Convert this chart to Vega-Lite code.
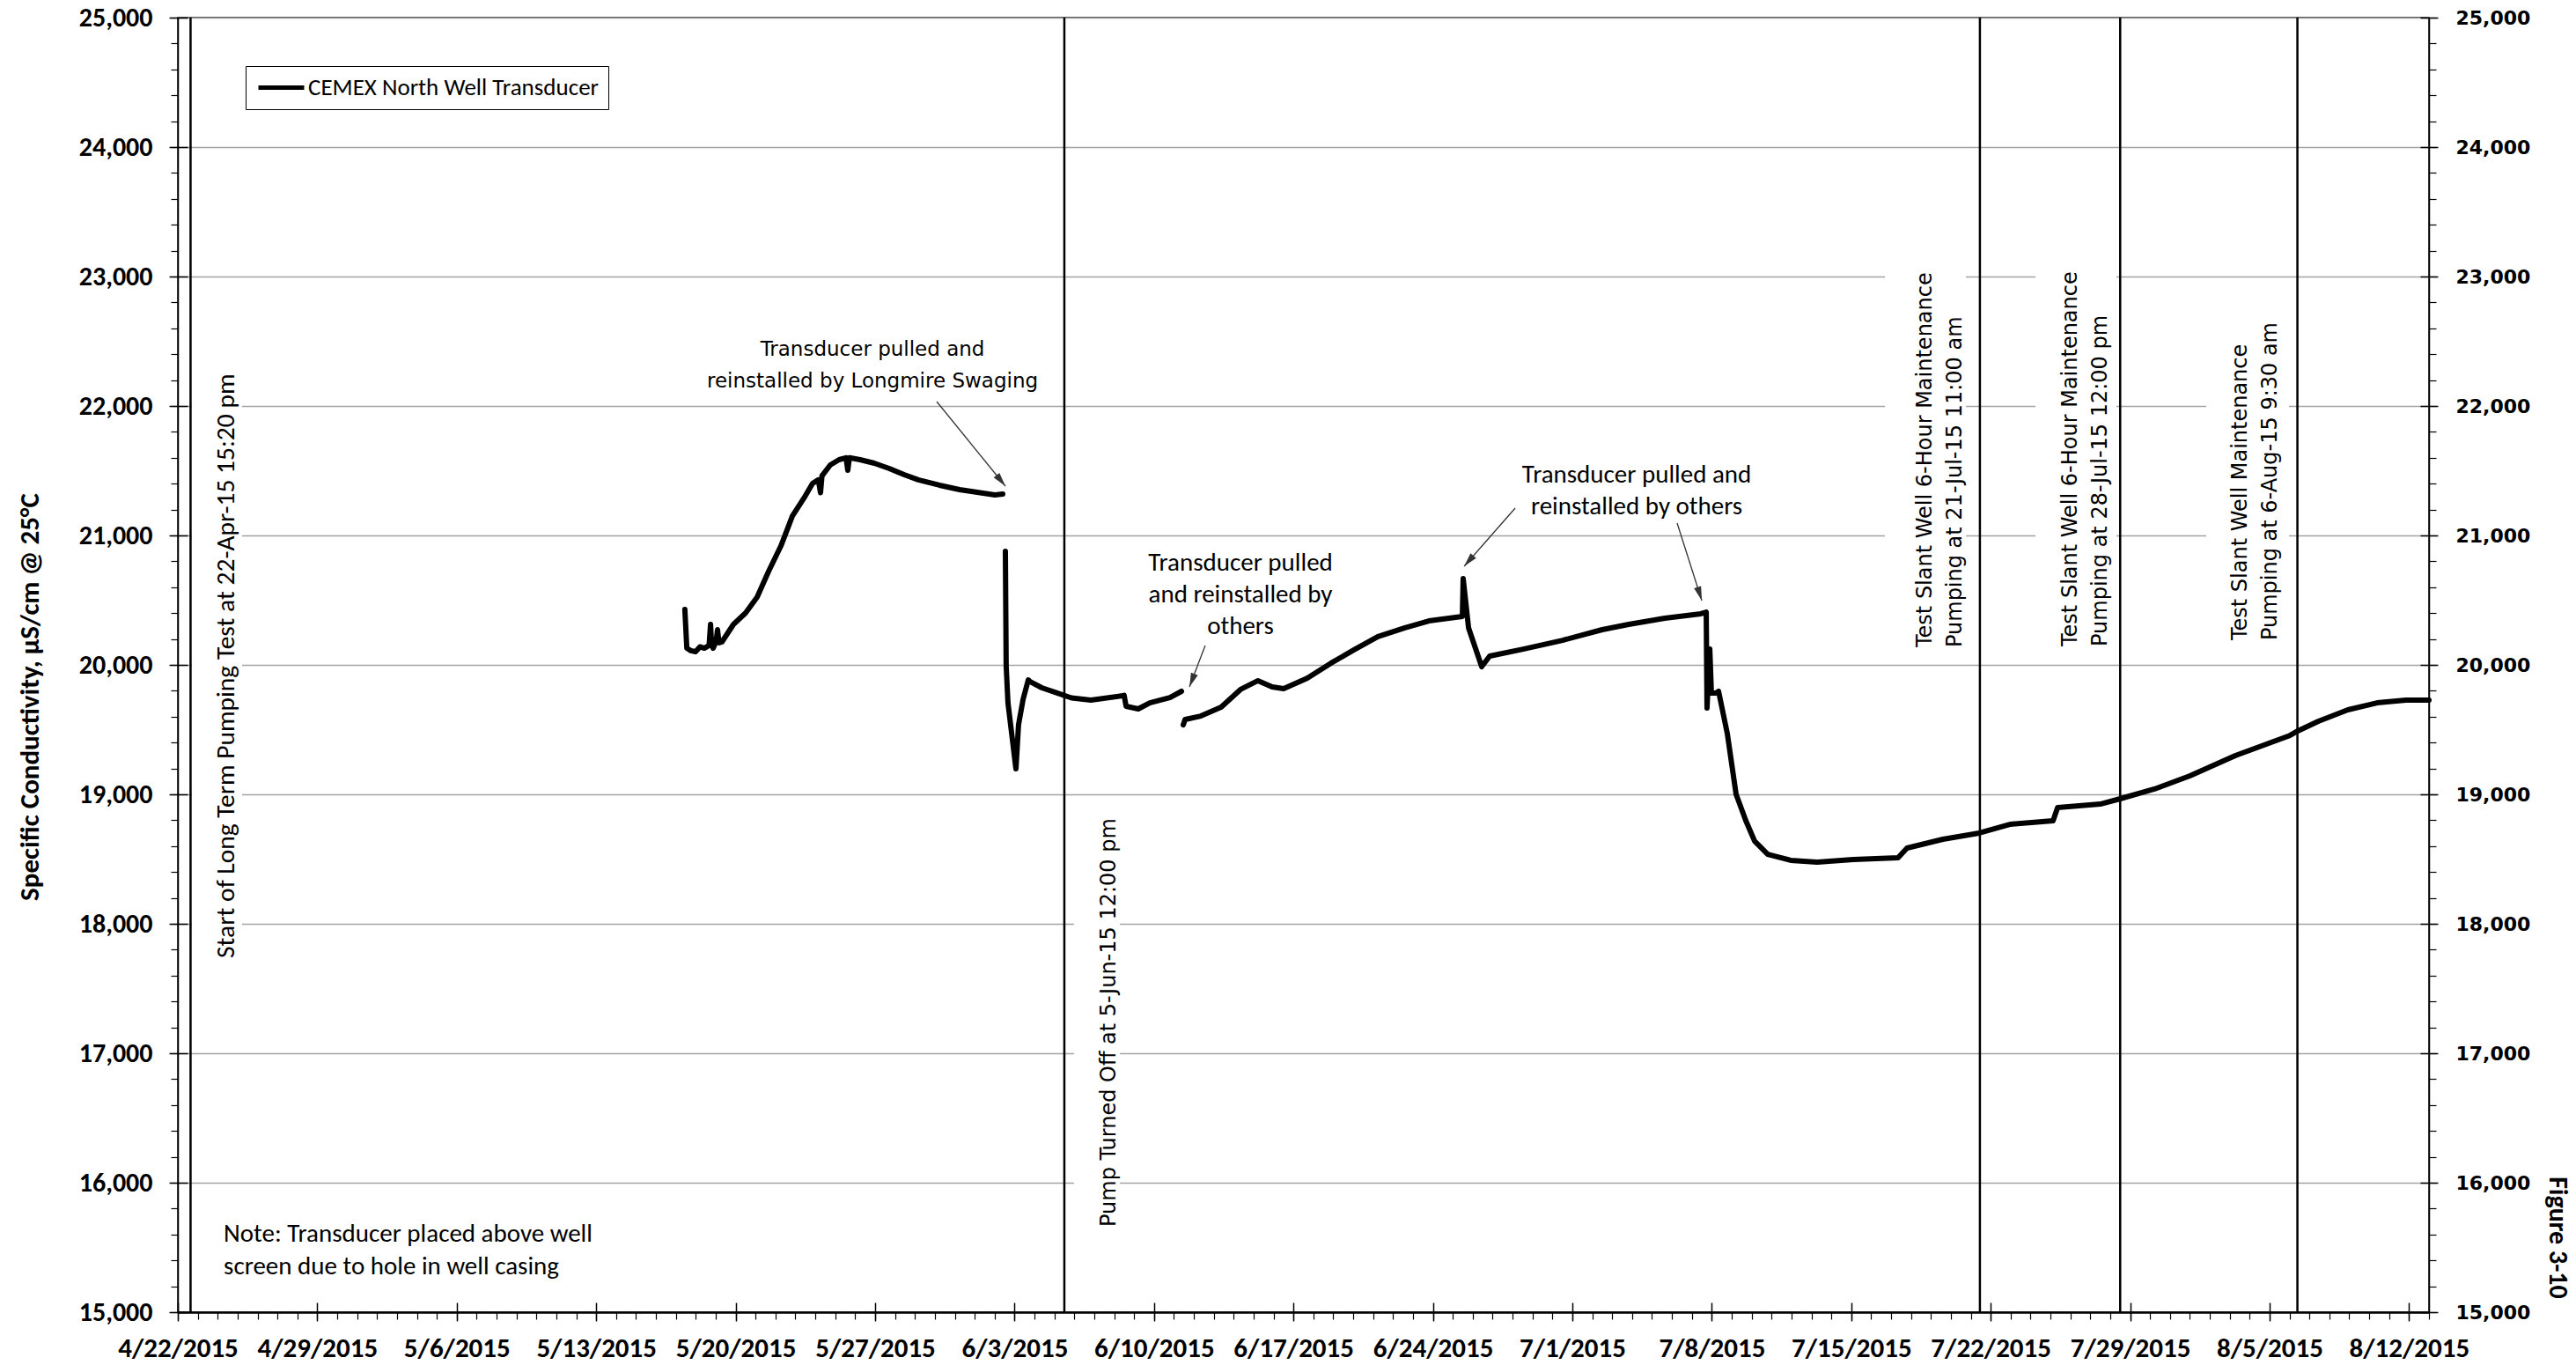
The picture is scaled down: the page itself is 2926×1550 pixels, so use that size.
{
  "$schema": "https://vega.github.io/schema/vega-lite/v6.json",
  "width": 2557,
  "height": 1470,
  "autosize": {"type": "none"},
  "padding": {"left": 202, "top": 20, "right": 167, "bottom": 60},
  "background": "white",
  "config": {
    "view": {"stroke": "black", "strokeWidth": 1.5},
    "axis": {"labelColor": "black", "titleColor": "black", "tickColor": "black", "domainColor": "black"}
  },
  "datasets": {
    "cond": [
      {"t": "2015-05-17T10:48", "v": 20429, "seg": 1, "series": "CEMEX North Well Transducer"},
      {"t": "2015-05-17T13:12", "v": 20129, "seg": 1, "series": "CEMEX North Well Transducer"},
      {"t": "2015-05-17T18:00", "v": 20110, "seg": 1, "series": "CEMEX North Well Transducer"},
      {"t": "2015-05-17T23:45", "v": 20102, "seg": 1, "series": "CEMEX North Well Transducer"},
      {"t": "2015-05-18T05:00", "v": 20140, "seg": 1, "series": "CEMEX North Well Transducer"},
      {"t": "2015-05-18T10:19", "v": 20129, "seg": 1, "series": "CEMEX North Well Transducer"},
      {"t": "2015-05-18T16:00", "v": 20150, "seg": 1, "series": "CEMEX North Well Transducer"},
      {"t": "2015-05-18T17:46", "v": 20313, "seg": 1, "series": "CEMEX North Well Transducer"},
      {"t": "2015-05-18T19:00", "v": 20160, "seg": 1, "series": "CEMEX North Well Transducer"},
      {"t": "2015-05-18T20:53", "v": 20129, "seg": 1, "series": "CEMEX North Well Transducer"},
      {"t": "2015-05-19T00:30", "v": 20180, "seg": 1, "series": "CEMEX North Well Transducer"},
      {"t": "2015-05-19T02:10", "v": 20272, "seg": 1, "series": "CEMEX North Well Transducer"},
      {"t": "2015-05-19T04:00", "v": 20170, "seg": 1, "series": "CEMEX North Well Transducer"},
      {"t": "2015-05-19T07:26", "v": 20177, "seg": 1, "series": "CEMEX North Well Transducer"},
      {"t": "2015-05-19T21:22", "v": 20313, "seg": 1, "series": "CEMEX North Well Transducer"},
      {"t": "2015-05-20T12:00", "v": 20401, "seg": 1, "series": "CEMEX North Well Transducer"},
      {"t": "2015-05-21T01:55", "v": 20524, "seg": 1, "series": "CEMEX North Well Transducer"},
      {"t": "2015-05-21T15:36", "v": 20721, "seg": 1, "series": "CEMEX North Well Transducer"},
      {"t": "2015-05-22T06:29", "v": 20918, "seg": 1, "series": "CEMEX North Well Transducer"},
      {"t": "2015-05-22T20:24", "v": 21150, "seg": 1, "series": "CEMEX North Well Transducer"},
      {"t": "2015-05-23T10:05", "v": 21286, "seg": 1, "series": "CEMEX North Well Transducer"},
      {"t": "2015-05-23T20:38", "v": 21401, "seg": 1, "series": "CEMEX North Well Transducer"},
      {"t": "2015-05-24T03:36", "v": 21430, "seg": 1, "series": "CEMEX North Well Transducer"},
      {"t": "2015-05-24T06:14", "v": 21330, "seg": 1, "series": "CEMEX North Well Transducer"},
      {"t": "2015-05-24T08:00", "v": 21460, "seg": 1, "series": "CEMEX North Well Transducer"},
      {"t": "2015-05-24T18:00", "v": 21544, "seg": 1, "series": "CEMEX North Well Transducer"},
      {"t": "2015-05-25T04:34", "v": 21585, "seg": 1, "series": "CEMEX North Well Transducer"},
      {"t": "2015-05-25T13:00", "v": 21600, "seg": 1, "series": "CEMEX North Well Transducer"},
      {"t": "2015-05-25T15:07", "v": 21503, "seg": 1, "series": "CEMEX North Well Transducer"},
      {"t": "2015-05-25T17:00", "v": 21600, "seg": 1, "series": "CEMEX North Well Transducer"},
      {"t": "2015-05-26T06:00", "v": 21585, "seg": 1, "series": "CEMEX North Well Transducer"},
      {"t": "2015-05-26T23:02", "v": 21558, "seg": 1, "series": "CEMEX North Well Transducer"},
      {"t": "2015-05-27T17:02", "v": 21517, "seg": 1, "series": "CEMEX North Well Transducer"},
      {"t": "2015-05-28T11:02", "v": 21469, "seg": 1, "series": "CEMEX North Well Transducer"},
      {"t": "2015-05-29T04:05", "v": 21429, "seg": 1, "series": "CEMEX North Well Transducer"},
      {"t": "2015-05-30T05:31", "v": 21388, "seg": 1, "series": "CEMEX North Well Transducer"},
      {"t": "2015-05-31T05:46", "v": 21354, "seg": 1, "series": "CEMEX North Well Transducer"},
      {"t": "2015-06-01T03:07", "v": 21333, "seg": 1, "series": "CEMEX North Well Transducer"},
      {"t": "2015-06-02T00:14", "v": 21313, "seg": 1, "series": "CEMEX North Well Transducer"},
      {"t": "2015-06-02T09:50", "v": 21320, "seg": 1, "series": "CEMEX North Well Transducer"},
      {"t": "2015-06-02T12:58", "v": 20878, "seg": 2, "series": "CEMEX North Well Transducer"},
      {"t": "2015-06-02T13:55", "v": 19993, "seg": 2, "series": "CEMEX North Well Transducer"},
      {"t": "2015-06-02T16:05", "v": 19707, "seg": 2, "series": "CEMEX North Well Transducer"},
      {"t": "2015-06-03T01:41", "v": 19197, "seg": 2, "series": "CEMEX North Well Transducer"},
      {"t": "2015-06-03T04:48", "v": 19537, "seg": 2, "series": "CEMEX North Well Transducer"},
      {"t": "2015-06-03T10:19", "v": 19735, "seg": 2, "series": "CEMEX North Well Transducer"},
      {"t": "2015-06-03T16:34", "v": 19884, "seg": 2, "series": "CEMEX North Well Transducer"},
      {"t": "2015-06-03T18:58", "v": 19870, "seg": 2, "series": "CEMEX North Well Transducer"},
      {"t": "2015-06-04T08:53", "v": 19823, "seg": 2, "series": "CEMEX North Well Transducer"},
      {"t": "2015-06-05T02:24", "v": 19785, "seg": 2, "series": "CEMEX North Well Transducer"},
      {"t": "2015-06-05T20:38", "v": 19745, "seg": 2, "series": "CEMEX North Well Transducer"},
      {"t": "2015-06-06T19:55", "v": 19728, "seg": 2, "series": "CEMEX North Well Transducer"},
      {"t": "2015-06-08T10:05", "v": 19762, "seg": 2, "series": "CEMEX North Well Transducer"},
      {"t": "2015-06-08T12:00", "v": 19765, "seg": 2, "series": "CEMEX North Well Transducer"},
      {"t": "2015-06-08T14:24", "v": 19680, "seg": 2, "series": "CEMEX North Well Transducer"},
      {"t": "2015-06-09T05:02", "v": 19660, "seg": 2, "series": "CEMEX North Well Transducer"},
      {"t": "2015-06-09T18:58", "v": 19707, "seg": 2, "series": "CEMEX North Well Transducer"},
      {"t": "2015-06-10T19:12", "v": 19748, "seg": 2, "series": "CEMEX North Well Transducer"},
      {"t": "2015-06-11T09:07", "v": 19796, "seg": 2, "series": "CEMEX North Well Transducer"},
      {"t": "2015-06-11T11:17", "v": 19537, "seg": 3, "series": "CEMEX North Well Transducer"},
      {"t": "2015-06-11T13:26", "v": 19578, "seg": 3, "series": "CEMEX North Well Transducer"},
      {"t": "2015-06-12T08:24", "v": 19605, "seg": 3, "series": "CEMEX North Well Transducer"},
      {"t": "2015-06-13T08:53", "v": 19673, "seg": 3, "series": "CEMEX North Well Transducer"},
      {"t": "2015-06-14T08:10", "v": 19810, "seg": 3, "series": "CEMEX North Well Transducer"},
      {"t": "2015-06-15T05:17", "v": 19878, "seg": 3, "series": "CEMEX North Well Transducer"},
      {"t": "2015-06-15T22:19", "v": 19830, "seg": 3, "series": "CEMEX North Well Transducer"},
      {"t": "2015-06-16T12:14", "v": 19816, "seg": 3, "series": "CEMEX North Well Transducer"},
      {"t": "2015-06-17T16:48", "v": 19898, "seg": 3, "series": "CEMEX North Well Transducer"},
      {"t": "2015-06-18T21:22", "v": 20014, "seg": 3, "series": "CEMEX North Well Transducer"},
      {"t": "2015-06-20T00:58", "v": 20116, "seg": 3, "series": "CEMEX North Well Transducer"},
      {"t": "2015-06-21T05:46", "v": 20218, "seg": 3, "series": "CEMEX North Well Transducer"},
      {"t": "2015-06-22T14:24", "v": 20286, "seg": 3, "series": "CEMEX North Well Transducer"},
      {"t": "2015-06-23T19:12", "v": 20340, "seg": 3, "series": "CEMEX North Well Transducer"},
      {"t": "2015-06-25T11:31", "v": 20374, "seg": 3, "series": "CEMEX North Well Transducer"},
      {"t": "2015-06-25T12:29", "v": 20667, "seg": 3, "series": "CEMEX North Well Transducer"},
      {"t": "2015-06-25T18:58", "v": 20286, "seg": 3, "series": "CEMEX North Well Transducer"},
      {"t": "2015-06-26T10:48", "v": 19986, "seg": 3, "series": "CEMEX North Well Transducer"},
      {"t": "2015-06-26T20:24", "v": 20068, "seg": 3, "series": "CEMEX North Well Transducer"},
      {"t": "2015-06-28T12:43", "v": 20122, "seg": 3, "series": "CEMEX North Well Transducer"},
      {"t": "2015-06-30T12:14", "v": 20190, "seg": 3, "series": "CEMEX North Well Transducer"},
      {"t": "2015-07-02T12:00", "v": 20272, "seg": 3, "series": "CEMEX North Well Transducer"},
      {"t": "2015-07-03T19:55", "v": 20313, "seg": 3, "series": "CEMEX North Well Transducer"},
      {"t": "2015-07-05T15:22", "v": 20361, "seg": 3, "series": "CEMEX North Well Transducer"},
      {"t": "2015-07-07T10:48", "v": 20395, "seg": 3, "series": "CEMEX North Well Transducer"},
      {"t": "2015-07-07T17:17", "v": 20408, "seg": 3, "series": "CEMEX North Well Transducer"},
      {"t": "2015-07-07T18:14", "v": 19667, "seg": 3, "series": "CEMEX North Well Transducer"},
      {"t": "2015-07-07T21:36", "v": 20122, "seg": 3, "series": "CEMEX North Well Transducer"},
      {"t": "2015-07-07T23:31", "v": 19782, "seg": 3, "series": "CEMEX North Well Transducer"},
      {"t": "2015-07-08T04:48", "v": 19782, "seg": 3, "series": "CEMEX North Well Transducer"},
      {"t": "2015-07-08T08:10", "v": 19796, "seg": 3, "series": "CEMEX North Well Transducer"},
      {"t": "2015-07-08T18:43", "v": 19469, "seg": 3, "series": "CEMEX North Well Transducer"},
      {"t": "2015-07-09T05:17", "v": 19000, "seg": 3, "series": "CEMEX North Well Transducer"},
      {"t": "2015-07-09T17:02", "v": 18796, "seg": 3, "series": "CEMEX North Well Transducer"},
      {"t": "2015-07-10T03:36", "v": 18639, "seg": 3, "series": "CEMEX North Well Transducer"},
      {"t": "2015-07-10T19:26", "v": 18537, "seg": 3, "series": "CEMEX North Well Transducer"},
      {"t": "2015-07-11T23:02", "v": 18490, "seg": 3, "series": "CEMEX North Well Transducer"},
      {"t": "2015-07-13T06:58", "v": 18476, "seg": 3, "series": "CEMEX North Well Transducer"},
      {"t": "2015-07-15T02:24", "v": 18497, "seg": 3, "series": "CEMEX North Well Transducer"},
      {"t": "2015-07-17T08:24", "v": 18510, "seg": 3, "series": "CEMEX North Well Transducer"},
      {"t": "2015-07-17T19:12", "v": 18585, "seg": 3, "series": "CEMEX North Well Transducer"},
      {"t": "2015-07-19T14:24", "v": 18653, "seg": 3, "series": "CEMEX North Well Transducer"},
      {"t": "2015-07-21T10:05", "v": 18701, "seg": 3, "series": "CEMEX North Well Transducer"},
      {"t": "2015-07-23T00:00", "v": 18769, "seg": 3, "series": "CEMEX North Well Transducer"},
      {"t": "2015-07-25T03:07", "v": 18796, "seg": 3, "series": "CEMEX North Well Transducer"},
      {"t": "2015-07-25T08:38", "v": 18898, "seg": 3, "series": "CEMEX North Well Transducer"},
      {"t": "2015-07-27T12:00", "v": 18925, "seg": 3, "series": "CEMEX North Well Transducer"},
      {"t": "2015-07-28T12:00", "v": 18966, "seg": 3, "series": "CEMEX North Well Transducer"},
      {"t": "2015-07-30T05:17", "v": 19041, "seg": 3, "series": "CEMEX North Well Transducer"},
      {"t": "2015-08-01T00:00", "v": 19143, "seg": 3, "series": "CEMEX North Well Transducer"},
      {"t": "2015-08-03T06:43", "v": 19299, "seg": 3, "series": "CEMEX North Well Transducer"},
      {"t": "2015-08-05T23:31", "v": 19452, "seg": 3, "series": "CEMEX North Well Transducer"},
      {"t": "2015-08-06T10:05", "v": 19490, "seg": 3, "series": "CEMEX North Well Transducer"},
      {"t": "2015-08-07T10:48", "v": 19565, "seg": 3, "series": "CEMEX North Well Transducer"},
      {"t": "2015-08-08T22:19", "v": 19653, "seg": 3, "series": "CEMEX North Well Transducer"},
      {"t": "2015-08-10T09:36", "v": 19707, "seg": 3, "series": "CEMEX North Well Transducer"},
      {"t": "2015-08-11T20:24", "v": 19728, "seg": 3, "series": "CEMEX North Well Transducer"},
      {"t": "2015-08-13T00:00", "v": 19728, "seg": 3, "series": "CEMEX North Well Transducer"}
    ],
    "events": [
      {"t": "2015-04-22T15:20"},
      {"t": "2015-06-05T12:00"},
      {"t": "2015-07-21T11:00"},
      {"t": "2015-07-28T12:00"},
      {"t": "2015-08-06T09:30"}
    ],
    "boxes": [
      {"t1": "2015-04-22T16:58", "t2": "2015-04-25T05:25", "v1": 17650, "v2": 22350},
      {"t1": "2015-06-05T23:46", "t2": "2015-06-08T06:58", "v1": 15550, "v2": 18900},
      {"t1": "2015-07-16T16:34", "t2": "2015-07-20T18:14", "v1": 20050, "v2": 23200},
      {"t1": "2015-07-24T06:00", "t2": "2015-07-28T07:26", "v1": 20050, "v2": 23200},
      {"t1": "2015-08-01T19:41", "t2": "2015-08-05T23:17", "v1": 20100, "v2": 22600}
    ],
    "arrows": [
      {"id": 1, "t": "2015-05-30T02:15", "v": 22034},
      {"id": 1, "t": "2015-06-02T12:58", "v": 21381},
      {"id": 2, "t": "2015-06-12T13:41", "v": 20150},
      {"id": 2, "t": "2015-06-11T18:43", "v": 19830},
      {"id": 3, "t": "2015-06-28T03:07", "v": 21211},
      {"id": 3, "t": "2015-06-25T13:41", "v": 20762},
      {"id": 4, "t": "2015-07-06T06:14", "v": 21095},
      {"id": 4, "t": "2015-07-07T12:00", "v": 20497}
    ],
    "heads": [
      {"t": "2015-06-02T12:58", "v": 21381, "ang": 141},
      {"t": "2015-06-11T18:43", "v": 19830, "ang": 201},
      {"t": "2015-06-25T13:41", "v": 20762, "ang": 221},
      {"t": "2015-07-07T12:00", "v": 20497, "ang": 162}
    ],
    "rotCal": [
      {"t": "2015-04-24T10:19", "v": 17735, "lines": ["Start of Long Term Pumping Test at 22-Apr-15 15:20 pm"]}
    ],
    "rotVer": [
      {"t": "2015-06-07T18:14", "v": 15660, "lines": ["Pump Turned Off at 5-Jun-15 12:00 pm"]},
      {"t": "2015-07-18T17:17", "v": 20136, "lines": ["Test Slant Well 6-Hour Maintenance", "Pumping at 21-Jul-15 11:00 am"]},
      {"t": "2015-07-26T00:29", "v": 20143, "lines": ["Test Slant Well 6-Hour Maintenance", "Pumping at 28-Jul-15 12:00 pm"]},
      {"t": "2015-08-03T13:12", "v": 20190, "lines": ["Test Slant Well Maintenance", "Pumping at 6-Aug-15 9:30 am"]}
    ],
    "horVer": [
      {"t": "2015-05-26T20:53", "v": 22388, "lines": ["Transducer pulled and", "reinstalled by Longmire Swaging"]}
    ],
    "horCal": [
      {"t": "2015-06-14T08:10", "v": 20728, "lines": ["Transducer pulled", "and reinstalled by", "others"]},
      {"t": "2015-07-04T05:31", "v": 21408, "lines": ["Transducer pulled and", "reinstalled by others"]}
    ],
    "note": [
      {"t": "2015-04-24T07:12", "v": 15544, "lines": ["Note: Transducer placed above well", "screen due to hole in well casing"]}
    ]
  },
  "resolve": {"axis": {"x": "independent", "y": "independent"}},
  "layer": [
    {
      "data": {"name": "boxes"},
      "mark": {"type": "rect", "fill": "white", "strokeWidth": 0},
      "encoding": {
        "x": {"field": "t1", "type": "temporal",
          "scale": {"domain": [{"year": 2015, "month": 4, "date": 22}, {"year": 2015, "month": 8, "date": 13}], "nice": false},
          "axis": {"orient": "bottom", "title": null, "grid": false,
            "values": [{"year": 2015, "month": 4, "date": 22}, {"year": 2015, "month": 4, "date": 29}, {"year": 2015, "month": 5, "date": 6}, {"year": 2015, "month": 5, "date": 13}, {"year": 2015, "month": 5, "date": 20}, {"year": 2015, "month": 5, "date": 27}, {"year": 2015, "month": 6, "date": 3}, {"year": 2015, "month": 6, "date": 10}, {"year": 2015, "month": 6, "date": 17}, {"year": 2015, "month": 6, "date": 24}, {"year": 2015, "month": 7, "date": 1}, {"year": 2015, "month": 7, "date": 8}, {"year": 2015, "month": 7, "date": 15}, {"year": 2015, "month": 7, "date": 22}, {"year": 2015, "month": 7, "date": 29}, {"year": 2015, "month": 8, "date": 5}, {"year": 2015, "month": 8, "date": 12}],
            "format": "%-m/%-d/%Y", "labelFont": "Carlito, 'Liberation Sans Narrow', 'Arial Narrow', 'Liberation Sans', sans-serif",
            "labelFontSize": 31, "labelFontWeight": "bold", "labelPadding": 16, "labelFlush": false, "labelOverlap": false,
            "tickSize": 10, "tickWidth": 1.5, "domainWidth": 2.5}},
        "x2": {"field": "t2"},
        "y": {"field": "v1", "type": "quantitative",
          "scale": {"domain": [15000, 25000], "nice": false, "zero": false},
          "axis": {"orient": "left", "grid": true, "gridColor": "#a3a3a3", "gridWidth": 1.5,
            "values": [15000, 16000, 17000, 18000, 19000, 20000, 21000, 22000, 23000, 24000, 25000],
            "format": ",.0f", "labelFont": "Carlito, 'Liberation Sans Narrow', 'Arial Narrow', 'Liberation Sans', sans-serif",
            "labelFontSize": 30, "labelFontWeight": "bold", "labelPadding": 19, "labelFlush": false, "labelOverlap": false,
            "tickSize": 10, "tickWidth": 1.5, "domainWidth": 1.5,
            "title": "Specific Conductivity, µS/cm @ 25°C",
            "titleFont": "Carlito, 'Liberation Sans Narrow', 'Arial Narrow', 'Liberation Sans', sans-serif",
            "titleFontSize": 31, "titleFontWeight": "bold", "titleAngle": 270, "titleX": -168, "titleY": 771,
            "titleAlign": "center", "titleBaseline": "middle"}},
        "y2": {"field": "v2"}
      }
    },
    {
      "data": {"name": "events"},
      "mark": {"type": "rule", "stroke": "black", "strokeWidth": 2.5},
      "encoding": {
        "x": {"field": "t", "type": "temporal",
          "axis": {"orient": "bottom", "title": null, "grid": false, "labels": false, "domain": false,
            "values": [{"year": 2015, "month": 4, "date": 22}, {"year": 2015, "month": 4, "date": 29}, {"year": 2015, "month": 5, "date": 6}, {"year": 2015, "month": 5, "date": 13}, {"year": 2015, "month": 5, "date": 20}, {"year": 2015, "month": 5, "date": 27}, {"year": 2015, "month": 6, "date": 3}, {"year": 2015, "month": 6, "date": 10}, {"year": 2015, "month": 6, "date": 17}, {"year": 2015, "month": 6, "date": 24}, {"year": 2015, "month": 7, "date": 1}, {"year": 2015, "month": 7, "date": 8}, {"year": 2015, "month": 7, "date": 15}, {"year": 2015, "month": 7, "date": 22}, {"year": 2015, "month": 7, "date": 29}, {"year": 2015, "month": 8, "date": 5}, {"year": 2015, "month": 8, "date": 12}],
            "tickSize": 11, "tickWidth": 1.5, "offset": -11}},
        "y": {"datum": 15000, "type": "quantitative",
          "axis": {"orient": "left", "title": null, "grid": false, "labels": false, "domain": false,
            "values": [15000, 16000, 17000, 18000, 19000, 20000, 21000, 22000, 23000, 24000, 25000],
            "tickSize": 11, "tickWidth": 1.5, "offset": -11}},
        "y2": {"datum": 25000}
      }
    },
    {
      "data": {"name": "cond"},
      "mark": {"type": "line", "strokeWidth": 6, "strokeJoin": "round", "strokeCap": "round"},
      "encoding": {
        "x": {"field": "t", "type": "temporal",
          "axis": {"orient": "bottom", "title": null, "grid": false, "labels": false, "domain": false,
            "tickCount": {"interval": "day", "step": 1}, "tickSize": 8, "tickWidth": 1.2}},
        "y": {"field": "v", "type": "quantitative",
          "axis": {"orient": "right", "grid": false,
            "values": [15000, 16000, 17000, 18000, 19000, 20000, 21000, 22000, 23000, 24000, 25000],
            "format": ",.0f", "labelFont": "'DejaVu Sans', Verdana, sans-serif", "labelFontSize": 22, "labelFontWeight": "bold",
            "labelPadding": 20, "labelFlush": false, "labelOverlap": false, "tickSize": 10, "tickWidth": 1.5, "domainWidth": 1.5,
            "title": "Figure 3-10", "titleFont": "Carlito, 'Liberation Sans Narrow', 'Arial Narrow', 'Liberation Sans', sans-serif",
            "titleFontSize": 30, "titleFontWeight": "bold", "titleAngle": 90, "titleX": 145, "titleY": 1385,
            "titleAlign": "center", "titleBaseline": "middle"}},
        "detail": {"field": "seg", "type": "nominal"},
        "stroke": {"field": "series", "type": "nominal", "scale": {"range": ["black"]},
          "legend": {"title": null, "orient": "none", "legendX": 77, "legendY": 55, "direction": "vertical",
            "fillColor": "white", "strokeColor": "black", "padding": 11,
            "symbolType": "M-1,0L4.2,0", "symbolSize": 400,
            "symbolStrokeWidth": 5, "symbolStrokeColor": "black",
            "labelFont": "Carlito, 'Liberation Sans Narrow', 'Arial Narrow', 'Liberation Sans', sans-serif",
            "labelFontSize": 27, "labelColor": "black", "labelOffset": 33, "labelLimit": 600}}
      }
    },
    {
      "data": {"name": "arrows"},
      "mark": {"type": "line", "stroke": "#333333", "strokeWidth": 1.3},
      "encoding": {
        "x": {"field": "t", "type": "temporal", "axis": null},
        "y": {"field": "v", "type": "quantitative",
          "axis": {"orient": "left", "title": null, "grid": false, "labels": false, "domain": false,
            "tickCount": 50, "tickSize": 8, "tickWidth": 1.2}},
        "detail": {"field": "id", "type": "nominal"}
      }
    },
    {
      "data": {"name": "heads"},
      "mark": {"type": "point", "shape": "M0,0L-0.45,1.7L0.45,1.7Z", "filled": true, "fill": "#333333", "strokeWidth": 0, "opacity": 1, "size": 350},
      "encoding": {
        "x": {"field": "t", "type": "temporal", "axis": null},
        "y": {"field": "v", "type": "quantitative",
          "axis": {"orient": "right", "title": null, "grid": false, "labels": false, "domain": false,
            "values": [15000, 16000, 17000, 18000, 19000, 20000, 21000, 22000, 23000, 24000, 25000],
            "tickSize": 10, "tickWidth": 1.5, "offset": -10}},
        "angle": {"field": "ang", "type": "quantitative", "scale": null}
      }
    },
    {
      "data": {"name": "rotCal"},
      "mark": {"type": "text", "angle": 270, "align": "left", "baseline": "middle", "color": "black",
        "font": "Carlito, 'Liberation Sans Narrow', 'Arial Narrow', 'Liberation Sans', sans-serif", "fontSize": 29.5},
      "encoding": {
        "x": {"field": "t", "type": "temporal", "axis": null},
        "y": {"field": "v", "type": "quantitative",
          "axis": {"orient": "right", "title": null, "grid": false, "labels": false, "domain": false,
            "tickCount": 50, "tickSize": 8, "tickWidth": 1.2}},
        "text": {"field": "lines", "type": "nominal"}
      }
    },
    {
      "data": {"name": "rotVer"},
      "mark": {"type": "text", "angle": 270, "align": "left", "baseline": "middle", "color": "black",
        "font": "'DejaVu Sans', Verdana, sans-serif", "fontSize": 24, "lineHeight": 34},
      "encoding": {
        "x": {"field": "t", "type": "temporal", "axis": null},
        "y": {"field": "v", "type": "quantitative", "axis": null},
        "text": {"field": "lines", "type": "nominal"}
      }
    },
    {
      "data": {"name": "horVer"},
      "mark": {"type": "text", "align": "center", "baseline": "alphabetic", "color": "black",
        "font": "'DejaVu Sans', Verdana, sans-serif", "fontSize": 23, "lineHeight": 36},
      "encoding": {
        "x": {"field": "t", "type": "temporal", "axis": null},
        "y": {"field": "v", "type": "quantitative", "axis": null},
        "text": {"field": "lines", "type": "nominal"}
      }
    },
    {
      "data": {"name": "horCal"},
      "mark": {"type": "text", "align": "center", "baseline": "alphabetic", "color": "black",
        "font": "Carlito, 'Liberation Sans Narrow', 'Arial Narrow', 'Liberation Sans', sans-serif", "fontSize": 29, "lineHeight": 36},
      "encoding": {
        "x": {"field": "t", "type": "temporal", "axis": null},
        "y": {"field": "v", "type": "quantitative", "axis": null},
        "text": {"field": "lines", "type": "nominal"}
      }
    },
    {
      "data": {"name": "note"},
      "mark": {"type": "text", "align": "left", "baseline": "alphabetic", "color": "black",
        "font": "Carlito, 'Liberation Sans Narrow', 'Arial Narrow', 'Liberation Sans', sans-serif", "fontSize": 29, "lineHeight": 37},
      "encoding": {
        "x": {"field": "t", "type": "temporal", "axis": null},
        "y": {"field": "v", "type": "quantitative", "axis": null},
        "text": {"field": "lines", "type": "nominal"}
      }
    }
  ]
}
